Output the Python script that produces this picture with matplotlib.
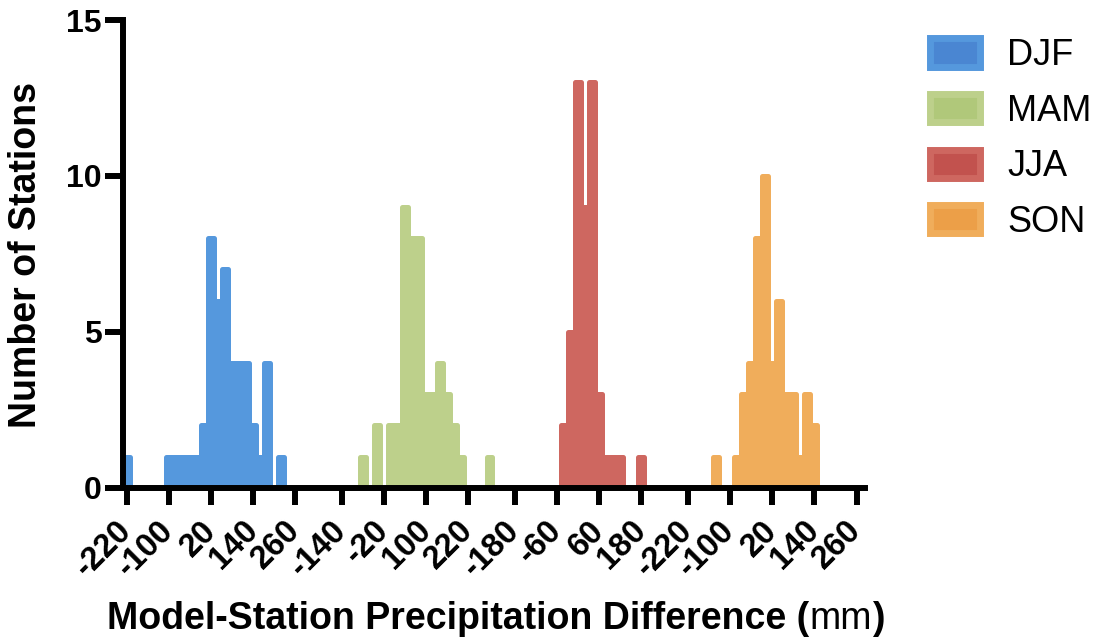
import matplotlib
matplotlib.use("Agg")
import matplotlib.pyplot as plt
from matplotlib.patches import Patch

plt.rcParams['font.family'] = ['Liberation Sans', 'DejaVu Sans']

# ---------------- data (bin centres in mm, station counts) ----------------
seasons = ['DJF', 'MAM', 'JJA', 'SON']

djf_bins = [-220, -200, -180, -160, -140, -120, -100, -80, -60, -40, -20, 0,
            20, 40, 60, 80, 100, 120, 140, 160, 180, 200, 220, 240, 260]
djf_counts = [1, 0, 0, 0, 0, 0, 1, 1, 1, 1, 1, 2,
              8, 6, 7, 4, 4, 4, 2, 1, 4, 0, 1, 0, 0]
djf_ticks = [-220, -100, 20, 140, 260]

mam_bins = [-140, -120, -100, -80, -60, -40, -20, 0, 20, 40, 60,
            80, 100, 120, 140, 160, 180, 200, 220, 240, 260, 280]
mam_counts = [0, 0, 0, 1, 0, 2, 0, 2, 2, 9, 8,
              8, 3, 3, 4, 3, 2, 1, 0, 0, 0, 1]
mam_ticks = [-140, -20, 100, 220]

jja_bins = [-180, -160, -140, -120, -100, -80, -60, -40, -20, 0,
            20, 40, 60, 80, 100, 120, 140, 160, 180]
jja_counts = [0, 0, 0, 0, 0, 0, 0, 2, 5, 13,
              9, 13, 3, 1, 1, 1, 0, 0, 1]
jja_ticks = [-180, -60, 60, 180]

son_bins = [-220, -200, -180, -160, -140, -120, -100, -80, -60, -40, -20, 0,
            20, 40, 60, 80, 100, 120, 140, 160, 180, 200, 220, 240, 260]
son_counts = [0, 0, 0, 0, 1, 0, 0, 1, 3, 4, 8, 10,
              4, 6, 3, 3, 1, 3, 2, 0, 0, 0, 0, 0, 0]
son_ticks = [-220, -100, 20, 140, 260]

y_ticks = [0, 5, 10, 15]

# ---------------- style ----------------
bar_colors = ['#5598DD', '#BDD08B', '#CE6760', '#F0AD5B']
legend_inner = ['#4A86D2', '#B0C87A', '#C2524E', '#EC9F48']

BIN_MM = 20          # bin width in mm
GROUP_GAP = 6.6      # gap (in bins) between consecutive groups
BAR_CORE = 0.84      # bar core width in bins (plus rounded edge)

W, H = 1101, 640
fig = plt.figure(figsize=(W / 100, H / 100), dpi=100)
ax_left, ax_right, ax_top, ax_bot = 122.5, 865, 20, 487.7
ax = fig.add_axes([ax_left / W, (H - ax_bot) / H,
                   (ax_right - ax_left) / W, (ax_bot - ax_top) / H])

groups = [(djf_bins, djf_counts, djf_ticks),
          (mam_bins, mam_counts, mam_ticks),
          (jja_bins, jja_counts, jja_ticks),
          (son_bins, son_counts, son_ticks)]

tick_pos, tick_lab = [], []
start = 0.0
for (bins, counts, ticks), col in zip(groups, bar_colors):
    xs = [start + (b - ticks[0]) / BIN_MM for b in bins]
    ax.bar(xs, counts, width=BAR_CORE, color=col, edgecolor=col,
           linewidth=3.6, joinstyle='round', zorder=1)
    tp = [start + (t - ticks[0]) / BIN_MM for t in ticks]
    tick_pos += tp
    tick_lab += [str(t) for t in ticks]
    start = tp[-1] + GROUP_GAP

ax.set_xlim(-0.6, 105.0)
ax.set_ylim(0, 15)

for s in ['top', 'right']:
    ax.spines[s].set_visible(False)
for s in ['left', 'bottom']:
    ax.spines[s].set_linewidth(4.3)
    ax.spines[s].set_capstyle('projecting')
    ax.spines[s].set_zorder(3)

ax.set_yticks(y_ticks)
ax.set_yticklabels([str(v) for v in y_ticks], fontsize=23, fontweight='bold')
ax.tick_params(axis='y', length=13, width=4.3, pad=2, direction='out')

ax.set_xticks(tick_pos)
ax.set_xticklabels(tick_lab, fontsize=23.5, fontweight='bold', rotation=45,
                   ha='right', va='center', rotation_mode='anchor')
ax.tick_params(axis='x', length=12.5, width=4.3, pad=15, direction='out')

# y label
fig.text(26 / W, 1 - 255 / H, 'Number of Stations', rotation=90,
         ha='center', va='center', fontsize=27, fontweight='bold')

# x label with mixed weight
renderer = fig.canvas.get_renderer()
parts = [('Model-Station Precipitation Difference (', 'bold'),
         ('mm', 'normal'), (')', 'bold')]
base_y = 1 - 629 / H
texts = []
for txt, wt in parts:
    t = fig.text(0, base_y, txt, fontsize=27, fontweight=wt,
                 ha='left', va='baseline')
    texts.append(t)
widths = [t.get_window_extent(renderer).width for t in texts]
total = sum(widths)
x0 = 496 - total / 2
for t, w in zip(texts, widths):
    t.set_x(x0 / W)
    x0 += w

# legend
handles = [Patch(facecolor=fi, edgecolor=ed, linewidth=5)
           for fi, ed in zip(legend_inner, bar_colors)]
fig.legend(handles, seasons, loc='upper left',
           bbox_to_anchor=(929.5 / W, 1 - 38 / H), frameon=False,
           fontsize=26, handlelength=1.39, handleheight=0.82,
           handletextpad=0.77, labelspacing=0.57, borderpad=0,
           borderaxespad=0)

fig.savefig('out.png', dpi=100)
